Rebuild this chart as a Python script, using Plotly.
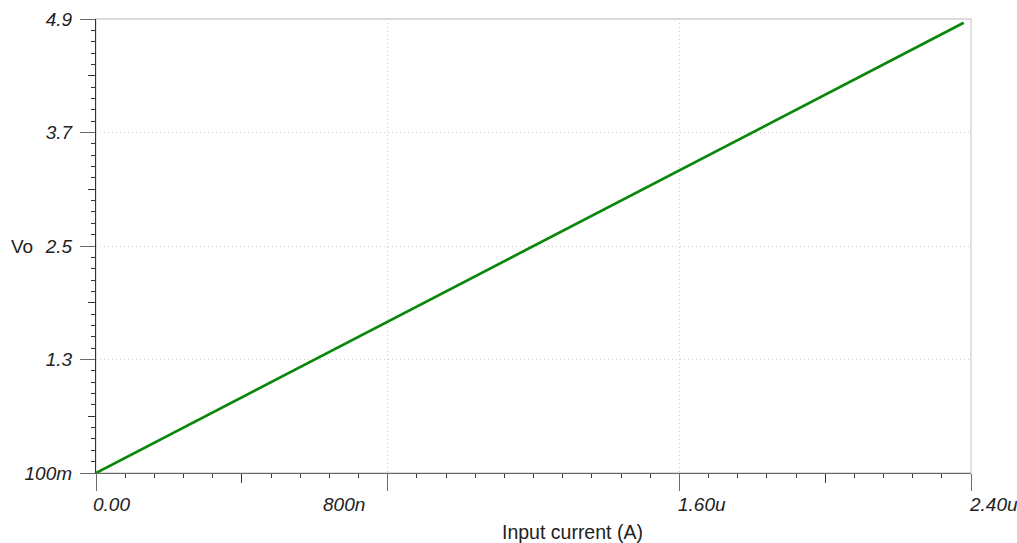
import plotly.graph_objects as go

# ---- data ----
input_current = [0.0, 0.05e-6, 0.1e-6, 0.2e-6, 0.3e-6, 0.4e-6, 0.5e-6, 0.6e-6, 0.7e-6, 0.8e-6,
                 0.9e-6, 1.0e-6, 1.1e-6, 1.2e-6, 1.3e-6, 1.4e-6, 1.5e-6, 1.6e-6, 1.7e-6,
                 1.8e-6, 1.9e-6, 2.0e-6, 2.1e-6, 2.2e-6, 2.3e-6, 2.38e-6]
vo = [0.10, 0.20, 0.30, 0.50, 0.70, 0.90, 1.10, 1.30, 1.50, 1.70,
      1.90, 2.10, 2.30, 2.50, 2.70, 2.90, 3.10, 3.30, 3.50,
      3.70, 3.90, 4.10, 4.30, 4.50, 4.70, 4.86]

x_major_vals = [0.0, 0.8e-6, 1.6e-6, 2.4e-6]
x_major_text = ["0.00", "800n", "1.60u", "2.40u"]
x_mid_vals = [0.4e-6, 2.0e-6]
y_major_vals = [0.1, 1.3, 2.5, 3.7, 4.9]
y_major_text = ["100m", "1.3", "2.5", "3.7", "4.9"]
y_mid_vals = [0.7, 1.9, 3.1, 4.3]

# ---- styles ----
FONT = "Liberation Sans, Arial, sans-serif"
AX = "#6a6a6a"
GRID = "#cfcfcf"
x_label_shift = {"0.00": -5, "800n": -67, "1.60u": -3, "2.40u": -4}

fig = go.Figure()
fig.add_trace(go.Scatter(x=input_current, y=vo, mode="lines",
                         line=dict(color="#0a870a", width=2.7), showlegend=False,
                         hoverinfo="skip"))
# empty trace so overlay axes exist
fig.add_trace(go.Scatter(x=[None], y=[None], xaxis="x2", yaxis="y2", showlegend=False))

fig.update_layout(
    width=1017, height=543,
    margin=dict(l=96, r=46, t=19, b=70),
    paper_bgcolor="white", plot_bgcolor="white",
    font=dict(family=FONT, color="#222"),
    xaxis=dict(range=[0, 2.4e-6], showline=True, linecolor=AX, linewidth=1.3,
               tickvals=x_major_vals, ticks="outside", ticklen=17, tickcolor=AX, tickwidth=1.3,
               showticklabels=False, zeroline=False, automargin=False,
               showgrid=True, gridcolor=GRID, griddash="1px,3px", gridwidth=1,
               minor=dict(dtick=0.08e-6, tick0=0, ticks="outside", ticklen=4,
                          tickcolor="#333", tickwidth=1, showgrid=False)),
    yaxis=dict(range=[0.1, 4.9], showline=True, linecolor="#333", linewidth=1.3,
               tickvals=y_major_vals, ticktext=y_major_text, ticks="outside", ticklen=15,
               tickcolor=AX, tickwidth=1.3, zeroline=False, automargin=False,
               tickfont=dict(family=FONT, size=19, style="italic", color="#222"),
               ticklabelstandoff=4,
               showgrid=True, gridcolor=GRID, griddash="1px,3px", gridwidth=1,
               minor=dict(dtick=0.12, tick0=0.1, ticks="outside", ticklen=4,
                          tickcolor="#333", tickwidth=1, showgrid=False)),
    xaxis2=dict(overlaying="x", anchor="y", range=[0, 2.4e-6], tickvals=x_mid_vals,
                ticks="outside", ticklen=9, tickcolor="#333", tickwidth=1, automargin=False,
                showticklabels=False, showgrid=False, zeroline=False, showline=False),
    yaxis2=dict(overlaying="y", anchor="x", range=[0.1, 4.9], tickvals=y_mid_vals,
                ticks="outside", ticklen=7, tickcolor="#333", tickwidth=1, automargin=False,
                showticklabels=False, showgrid=False, zeroline=False, showline=False),
)

# top / right frame
fig.add_shape(type="rect", xref="paper", yref="paper", x0=0, x1=1, y0=0, y1=1,
              line=dict(color="#d0d0d0", width=1.3), layer="below")

# x tick labels
for v, t in zip(x_major_vals, x_major_text):
    fig.add_annotation(x=v, xref="x", y=0, yref="paper", text=t, showarrow=False,
                       xanchor="left", yanchor="middle", xshift=x_label_shift[t], yshift=-31,
                       font=dict(family=FONT, size=19, style="italic", color="#222"))

fig.add_annotation(x=0.545, xref="paper", y=0, yref="paper", text="Input current (A)",
                   showarrow=False, xanchor="center", yanchor="middle", yshift=-59,
                   borderpad=0, font=dict(family=FONT, size=19.5, color="#222"))
fig.add_annotation(x=0, xref="paper", y=2.5, yref="y", text="Vo", showarrow=False,
                   xanchor="left", yanchor="middle", xshift=-87,
                   font=dict(family=FONT, size=19, color="#222"))

fig.write_html("out.html", config={"displayModeBar": False},
               post_script="document.body.style.margin='0px';")
